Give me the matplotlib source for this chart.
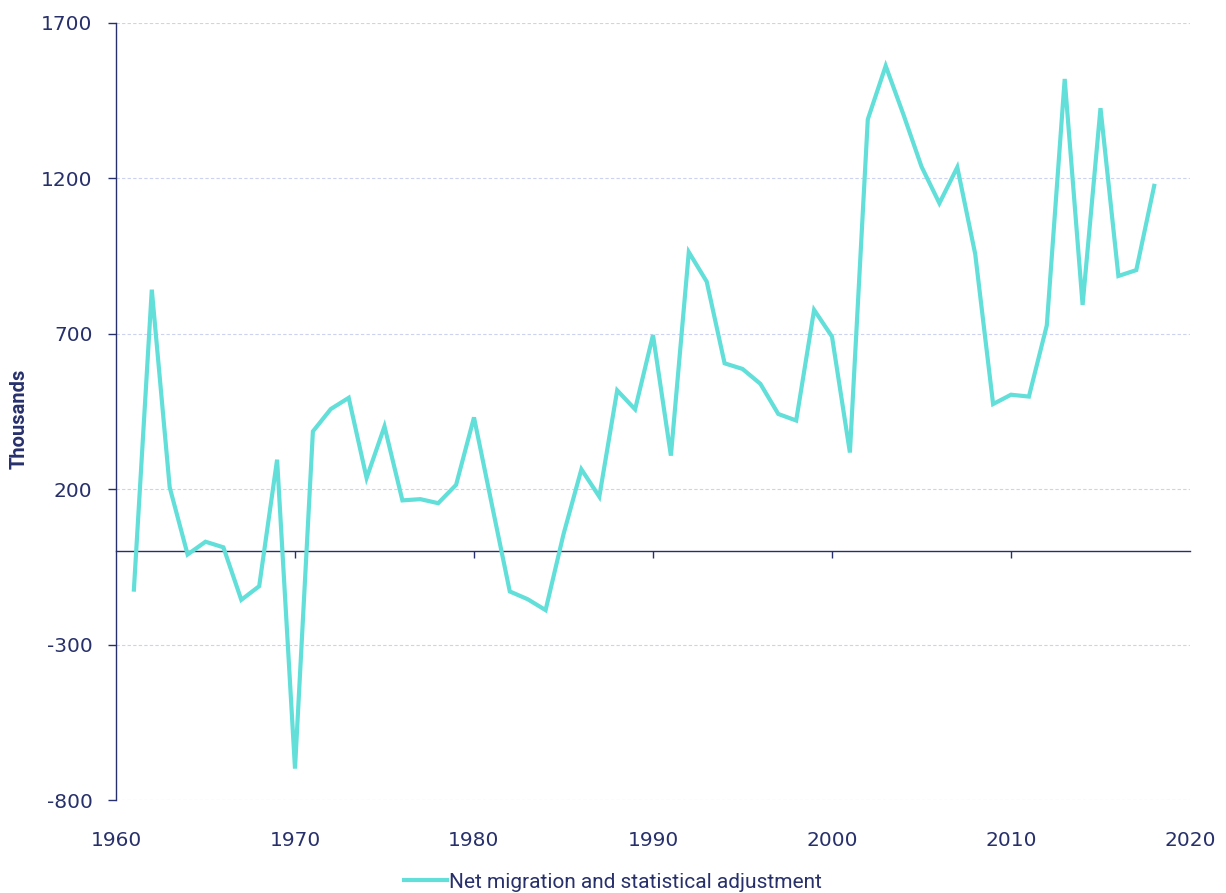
import matplotlib
matplotlib.use("Agg")
import matplotlib.pyplot as plt

plt.rcParams["axes.unicode_minus"] = False

years = list(range(1961, 2019))
net_migration = [
    -123, 842, 206, -10, 31, 13, -156, -112, 295, -699,   # 1961-1970
    386, 458, 494, 236, 402, 164, 168, 155, 214, 431,     # 1971-1980
    150, -129, -154, -189, 55, 264, 176, 518, 457, 696,   # 1981-1990
    308, 963, 868, 605, 587, 539, 442, 421, 777, 691,     # 1991-2000
    318, 1390, 1562, 1404, 1238, 1120, 1236, 957, 474, 504,  # 2001-2010
    498, 727, 1520, 793, 1426, 886, 905, 1176             # 2011-2018
]
series_label = "Net migration and statistical adjustment"
y_ticks = [-800, -300, 200, 700, 1200, 1700]
x_ticks = [1960, 1970, 1980, 1990, 2000, 2010, 2020]
y_label = "Thousands"

navy = "#27306B"
line_color = "#62DFD9"
grid_color = "#CDD2F0"

fig = plt.figure(figsize=(12.26, 8.93), dpi=100)
ax = fig.add_axes([116/1226, 1 - 800/893, (1190 - 116)/1226, (800 - 23)/893])

ax.plot(years, net_migration, color=line_color, lw=3.0, solid_joinstyle="miter",
        label=series_label, zorder=3)

ax.set_xlim(1960, 2020)
ax.set_ylim(-800, 1700)
ax.set_yticks(y_ticks)
ax.set_xticks(x_ticks)
ax.yaxis.grid(True, color=grid_color, ls=(0, (3, 2)), lw=0.8)
ax.set_axisbelow(True)

for s in ["top", "right", "bottom"]:
    ax.spines[s].set_visible(False)
ax.spines["left"].set_color(navy)
ax.spines["left"].set_linewidth(1.0)

ax.tick_params(axis="y", colors=navy, length=6, width=1.0, pad=11, labelsize=14.5)
ax.tick_params(axis="x", colors=navy, length=0, pad=22, labelsize=14.5)
for lab in ax.get_xticklabels() + ax.get_yticklabels():
    lab.set_fontfamily("DejaVu Sans")

# zero line with decade ticks
sec = ax.secondary_xaxis(0, transform=ax.transData)
sec.set_xticks(x_ticks[1:-1])
sec.tick_params(axis="x", colors=navy, length=5, width=1.0, labelbottom=False, direction="out")
sec.spines["bottom"].set_color(navy)
sec.spines["bottom"].set_linewidth(1.0)

ax.set_ylabel(y_label, color=navy, fontsize=14.5, fontweight="bold", family="Roboto")
ax.yaxis.set_label_coords(-0.081, 0.49)

fig.legend(loc="center", bbox_to_anchor=(0.5, 1 - 882/893), frameon=False,
           handlelength=2.1, handletextpad=0.1, prop={"family": "Roboto", "size": 15},
           labelcolor=navy)

fig.savefig("out.png", dpi=100)
